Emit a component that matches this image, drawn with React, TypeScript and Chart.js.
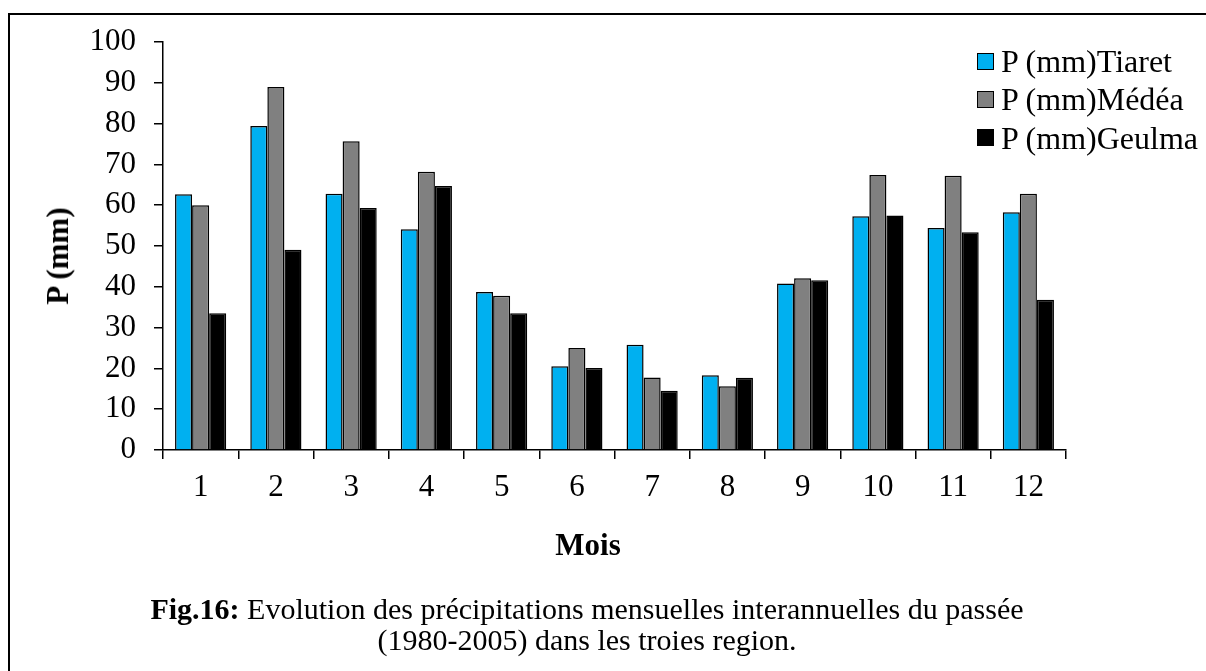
import React, { useEffect, useRef } from 'react';
import { Chart, registerables } from 'chart.js';

Chart.register(...registerables);

const months = ['1', '2', '3', '4', '5', '6', '7', '8', '9', '10', '11', '12'];
const tiaret = [62.7, 79.4, 62.8, 54.1, 38.7, 20.5, 25.8, 18.3, 40.8, 57.3, 54.4, 58.3];
const medea = [60.0, 89.0, 75.7, 68.2, 37.8, 25.0, 17.8, 15.6, 42.1, 67.4, 67.2, 62.8];
const geulma = [33.5, 49.1, 59.3, 64.7, 33.5, 20.1, 14.5, 17.7, 41.6, 57.5, 53.4, 36.8];
const seriesNames = ['P (mm)Tiaret', 'P (mm)Médéa', 'P (mm)Geulma'];
const seriesColors = ['#00B0F0', '#808080', '#000000'];
const yMin = 0;
const yMax = 100;
const yStep = 10;
const yTitle = 'P (mm)';
const xTitle = 'Mois';
const captionBold = 'Fig.16:';
const captionLine1 = ' Evolution des précipitations mensuelles interannuelles du passée';
const captionLine2 = '(1980-2005) dans les troies region.';

const FONT = "'Liberation Serif', 'Times New Roman', serif";

export default function App() {
  const canvasRef = useRef<HTMLCanvasElement | null>(null);

  useEffect(() => {
    document.body.style.margin = '0';
    const canvas = canvasRef.current;
    if (!canvas) return;
    const values = [tiaret, medea, geulma];
    const chart = new Chart(canvas, {
      type: 'bar',
      data: {
        labels: months,
        datasets: seriesNames.map((name, i) => ({
          label: name,
          data: values[i],
          backgroundColor: seriesColors[i],
          borderColor: '#000000',
          borderWidth: 1.5,
          categoryPercentage: 0.68,
          barPercentage: 1.0,
        })),
      },
      options: {
        animation: false,
        responsive: false,
        devicePixelRatio: 1,
        layout: { padding: { left: 0, right: 140, top: 42, bottom: 171 } },
        plugins: {
          legend: { display: false },
          tooltip: { enabled: false },
          title: { display: false },
        },
        scales: {
          x: {
            type: 'category',
            grid: {
              display: true,
              drawOnChartArea: false,
              drawTicks: true,
              tickLength: 9,
              color: '#000000',
              lineWidth: 1.5,
              offset: true,
            },
            border: { display: true, color: '#000000', width: 1.5 },
            ticks: {
              color: '#000000',
              font: { family: FONT, size: 31 },
              padding: 10,
              maxRotation: 0,
              autoSkip: false,
            },
            afterFit: (scale: any) => {
              scale.height = 50;
            },
          },
          y: {
            min: yMin,
            max: yMax,
            grid: {
              display: true,
              drawOnChartArea: false,
              drawTicks: true,
              tickLength: 9,
              color: '#000000',
              lineWidth: 1.5,
            },
            border: { display: true, color: '#000000', width: 1.5 },
            ticks: {
              stepSize: yStep,
              color: '#000000',
              font: { family: FONT, size: 31 },
              padding: 18,
            },
            afterFit: (scale: any) => {
              scale.width = 163;
            },
          },
        },
      },
    });
    return () => chart.destroy();
  }, []);

  return (
    <div style={{ position: 'relative', width: 1206, height: 671, overflow: 'hidden', background: '#ffffff', fontFamily: FONT, color: '#000' }}>
      <div
        style={{
          position: 'absolute',
          left: 8,
          top: 13,
          width: 1400,
          height: 900,
          borderLeft: '2px solid #000',
          borderTop: '2px solid #000',
        }}
      />
      <canvas ref={canvasRef} width={1206} height={671} style={{ position: 'absolute', left: 0, top: 0, width: 1206, height: 671 }} />
      <div
        style={{
          position: 'absolute',
          left: 58,
          top: 256,
          transform: 'translate(-50%, -50%) rotate(-90deg)',
          fontWeight: 'bold',
          fontSize: 31,
          lineHeight: '36px',
          whiteSpace: 'nowrap',
        }}
      >
        {yTitle}
      </div>
      <div
        style={{
          position: 'absolute',
          left: 488,
          width: 200,
          top: 527,
          textAlign: 'center',
          fontWeight: 'bold',
          fontSize: 31,
          lineHeight: '36px',
        }}
      >
        {xTitle}
      </div>
      <div style={{ position: 'absolute', left: 977, top: 42 }}>
        {seriesNames.map((name, i) => (
          <div key={name} style={{ display: 'flex', alignItems: 'center', height: 38.3 }}>
            <div
              style={{
                width: 17,
                height: 17,
                boxSizing: 'border-box',
                border: '1.5px solid #000',
                background: seriesColors[i],
                marginRight: 7,
                flex: '0 0 auto',
              }}
            />
            <span style={{ fontSize: 32, lineHeight: '38px', whiteSpace: 'nowrap' }}>{name}</span>
          </div>
        ))}
      </div>
      <div
        style={{
          position: 'absolute',
          left: 0,
          width: 1174,
          top: 593,
          textAlign: 'center',
          fontSize: 30,
          lineHeight: '31px',
        }}
      >
        <div style={{ whiteSpace: 'nowrap' }}>
          <b>{captionBold}</b>
          {captionLine1}
        </div>
        <div style={{ whiteSpace: 'nowrap' }}>{captionLine2}</div>
      </div>
    </div>
  );
}
